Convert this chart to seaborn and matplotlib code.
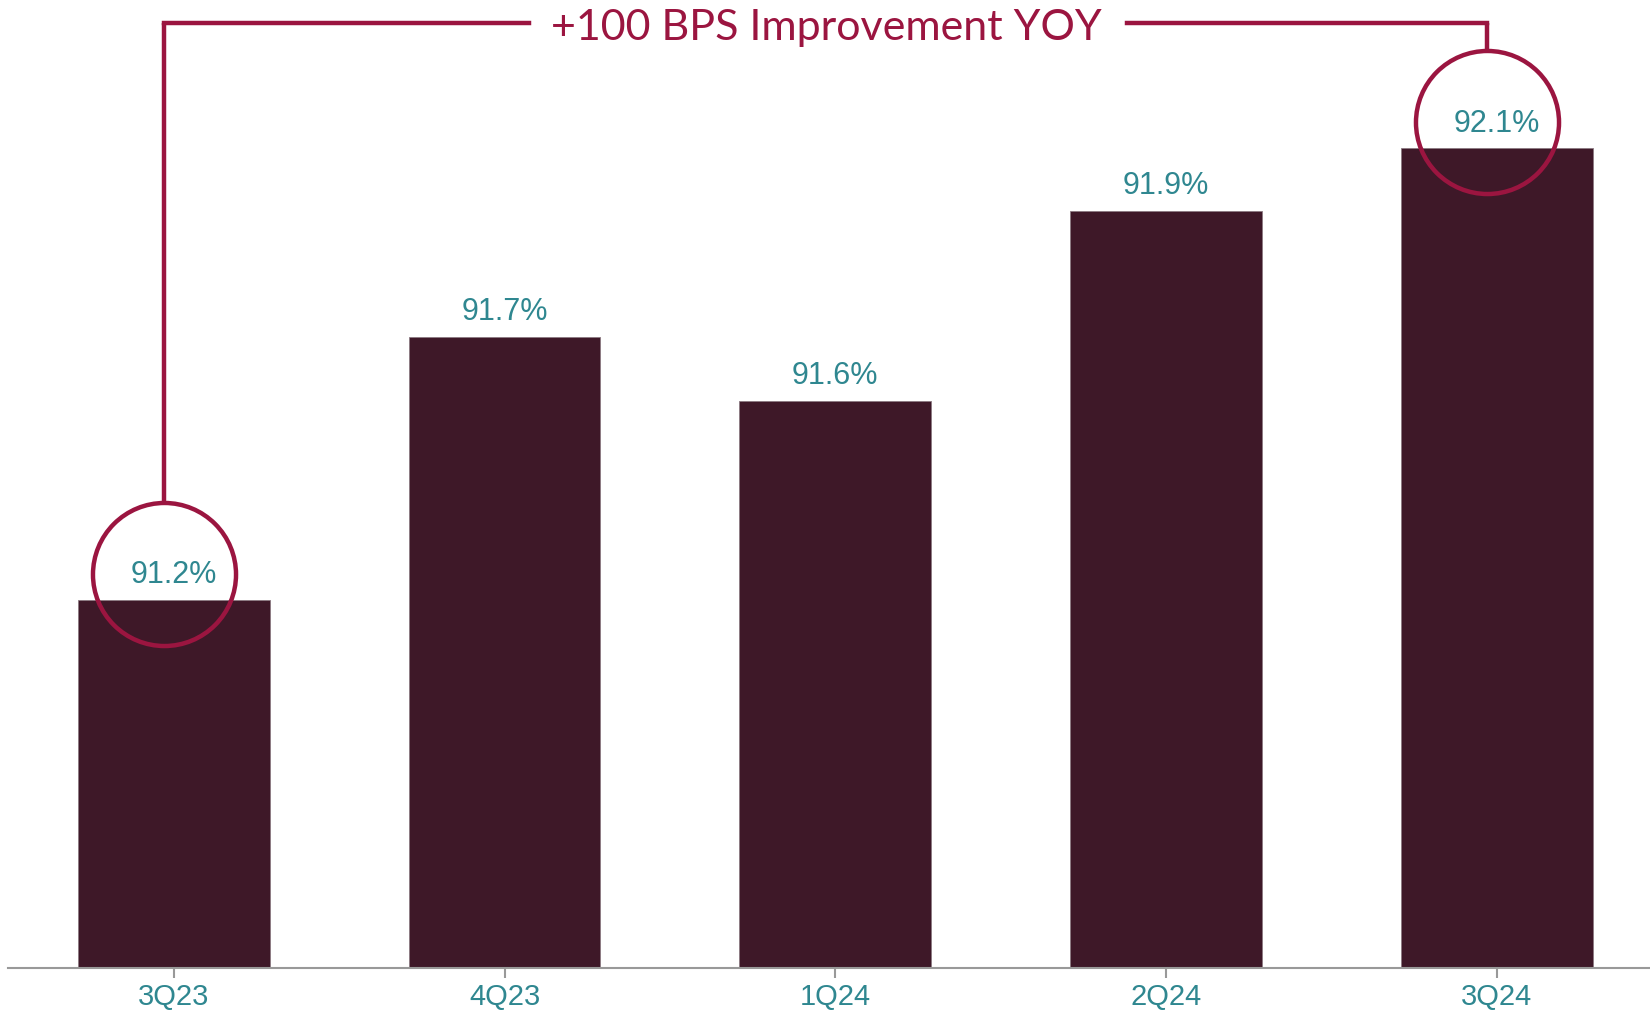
import pandas as pd
import matplotlib.pyplot as plt
import seaborn as sns

# Data
quarters = ["3Q23", "4Q23", "1Q24", "2Q24", "3Q24"]
values = [91.20, 91.70, 91.578, 91.94, 92.058]
title_text = "+100 BPS Improvement YOY"
highlight = [0, 4]  # bars circled by the bracket

bar_color = "#3e1828"
accent = "#9b1540"
teal = "#2f8790"

df = pd.DataFrame({"Quarter": quarters, "Value": values})

sns.set_theme(style="white")
plt.rcParams["font.family"] = ["Liberation Sans", "DejaVu Sans"]

W, H, DPI = 1650, 1014, 100
fig = plt.figure(figsize=(W / DPI, H / DPI), dpi=DPI)
ax_left, ax_bottom = 8.4, 46
ax = fig.add_axes([ax_left / W, ax_bottom / H, 1 - ax_left / W, 1 - ax_bottom / H])

px_per_unit = 526.0
ax_h = H - ax_bottom
ymin = 90.5

sns.barplot(data=df, x="Quarter", y="Value", color=bar_color, width=0.58,
            saturation=1, ax=ax, edgecolor="#8c7a82", linewidth=0.6)
ax.set_xlim(-0.5, 4.463)
ax.set_ylim(ymin, ymin + ax_h / px_per_unit)

# value labels
for i, v in enumerate(values):
    ax.annotate(f"{v:.1f}%", (i, v), xytext=(0, 7), textcoords="offset points",
                ha="center", va="bottom", color=teal, fontsize=22)

# axes styling
for s in ["left", "top", "right"]:
    ax.spines[s].set_visible(False)
ax.spines["bottom"].set_color("#999999")
ax.spines["bottom"].set_linewidth(1.5)
ax.set_yticks([])
ax.set_xlabel("")
ax.set_ylabel("")
ax.tick_params(axis="x", colors="#999999", length=7, width=1.5, bottom=True,
               labelsize=21, labelcolor=teal, pad=4)

# circles + bracket
px_x = 330.7  # px per category
cx_off = -10 / px_x
cy_off = 26 / px_per_unit
r_units = 72 / px_per_unit
top_y = ymin + (ax_h - 23) / px_per_unit
for i in highlight:
    cx = i + cx_off
    cy = values[i] + cy_off
    ax.plot([cx], [cy], marker="o", markersize=103, markerfacecolor="none",
            markeredgecolor=accent, markeredgewidth=3.2, clip_on=False, zorder=5)
    ax.plot([cx, cx], [cy + r_units, top_y], color=accent, lw=3.2,
            solid_capstyle="butt", clip_on=False, zorder=5)

lx = highlight[0] + cx_off
rx = highlight[1] + cx_off
ax.plot([lx, (529 - 174) / px_x], [top_y, top_y], color=accent, lw=3.2,
        solid_capstyle="projecting", clip_on=False)
ax.plot([(1127 - 174) / px_x, rx], [top_y, top_y], color=accent, lw=3.2,
        solid_capstyle="projecting", clip_on=False)
ax.text((826 - 174) / px_x, top_y - 5 / px_per_unit, title_text, ha="center",
        va="center", color=accent, fontsize=31, family=["Lato", "DejaVu Sans"])

fig.savefig("out.png", dpi=DPI)
